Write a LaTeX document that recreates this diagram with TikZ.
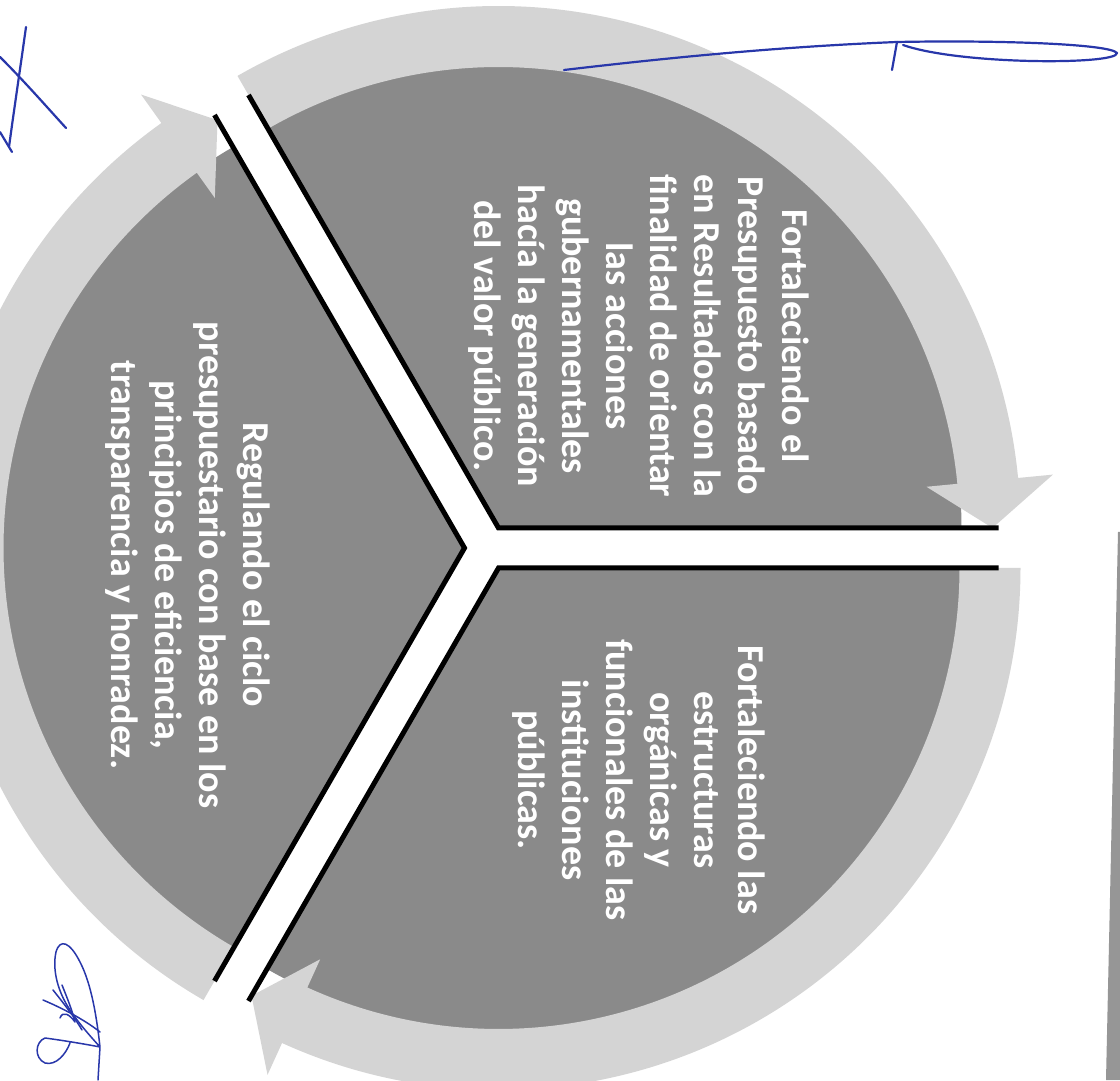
\documentclass[tikz,border=0pt]{standalone}
\usepackage{fontspec}
\setmainfont{Carlito}
\usetikzlibrary{calc}
\definecolor{sectorgray}{RGB}{138,138,138}
\definecolor{arrowgray}{RGB}{212,212,212}
\definecolor{inkblue}{RGB}{40,55,170}
\definecolor{bargray}{RGB}{150,150,150}
\newcommand\ringarrow[2]{%
  \pgfmathsetmacro\sA{#2}%
  \pgfmathsetmacro\sB{#2-120+5.5}%
  \pgfmathsetmacro\sC{#2-120}%
  \fill[arrowring] ($(#1)+(\sA:522)$) arc[start angle=\sA,end angle=\sB,radius=522]
    -- ($(#1)+(\sB:557)$) -- ($(#1)+(\sC:494)$) -- ($(#1)+(\sB:430)$)
    -- ($(#1)+(\sB:461)$) arc[start angle=\sB,end angle=\sA,radius=461] -- cycle;}
\begin{document}
\begin{tikzpicture}[x=1pt,y=1pt,
  sector/.style={fill=sectorgray},
  arrowring/.style={fill=arrowgray},
  edgeline/.style={line width=5pt,draw=black,line join=miter},
  seglabel/.style={text=white,font=\fontsize{38}{44}\selectfont\bfseries,align=center,rotate=-90,inner sep=0pt},
  ink/.style={draw=inkblue,line width=2.2pt,line cap=round,line join=round},
  thinink/.style={draw=inkblue,line width=1.5pt,line cap=round,line join=round}]
\useasboundingbox (0,0) rectangle (1120,1080);
\fill[white] (0,0) rectangle (1120,1080);

% sector apexes
\coordinate (TR) at (498.5,552);
\coordinate (BR) at (498.5,512);
\coordinate (L) at (464.5,532);

% pie sectors
\fill[sector] (TR) -- ($(TR)+(120:463)$) arc[start angle=120,end angle=0,radius=463] -- cycle;
\fill[sector] (BR) -- ($(BR)+(0:463)$) arc[start angle=0,end angle=-120,radius=463] -- cycle;
\fill[sector] (L) -- ($(L)+(240:463)$) arc[start angle=240,end angle=120,radius=463] -- cycle;

% circular arrows
\ringarrow{TR}{120}
\ringarrow{BR}{0}
\ringarrow{L}{240}

% black edges
\draw[edgeline] ($(TR)+(120:500)$) -- (TR) -- ($(TR)+(0:500)$);
\draw[edgeline] ($(BR)+(0:500)$) -- (BR) -- ($(BR)+(-120:500)$);
\draw[edgeline] ($(L)+(240:500)$) -- (L) -- ($(L)+(120:500)$);

% texts
\node[seglabel] (t1) at (639,744) {Fortaleciendo el\\Presupuesto basado\\en Resultados con la\\finalidad de orientar\\las acciones\\gubernamentales\\hacía la generación\\del valor público.};
\node[seglabel] (t2) at (639,300) {Fortaleciendo las\\estructuras\\orgánicas y\\funcionales de las\\instituciones\\públicas.};
\node[seglabel] (t3) at (188,515) {Regulando el ciclo\\presupuestario con base en los\\principios de eficiencia,\\transparencia y honradez.};

% right page edge bar
\fill[bargray] (1118,548) -- (1120,548) -- (1120,0) -- (1106,0) -- cycle;

% handwritten marks
\draw[ink] (26,1053) .. controls (20,1010) and (14,970) .. (9,933);
\draw[ink] (0,1023) .. controls (25,998) and (45,975) .. (66,952);
\draw[ink] (0,948) -- (12,928);
\draw[ink] (564,1010) .. controls (700,1026) and (800,1034) .. (897,1038)
  .. controls (1000,1040) and (1110,1036) .. (1117,1027)
  .. controls (1118,1015) and (960,1015) .. (903,1035);
\draw[ink] (897,1038) -- (892,1010);
\draw[thinink] (98,0) -- (100,33) .. controls (97,60) and (92,95) .. (80,118)
  .. controls (70,138) and (60,142) .. (56,128)
  .. controls (52,110) and (58,88) .. (70,70)
  .. controls (80,55) and (92,42) .. (100,33)
  .. controls (85,36) and (60,40) .. (45,42)
  .. controls (35,38) and (34,22) .. (45,17)
  .. controls (56,14) and (66,26) .. (70,37);
\draw[thinink] (43,80) .. controls (62,72) and (85,60) .. (100,48);
\draw[thinink] (53,90) .. controls (65,75) and (75,62) .. (82,50);
\draw[thinink] (62,95) .. controls (68,80) and (72,70) .. (75,58)
  .. controls (70,65) and (63,70) .. (60,62);
\end{tikzpicture}
\end{document}
